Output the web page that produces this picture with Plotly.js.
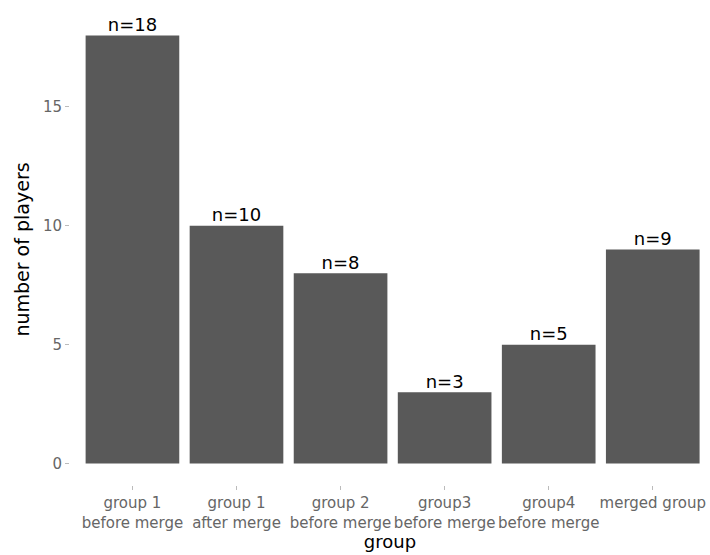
<!DOCTYPE html>
<html>
<head>
<meta charset="utf-8">
<script src="https://cdn.plot.ly/plotly-3.0.1.min.js"></script>
<style>html,body{margin:0;padding:0;background:#fff;}</style>
</head>
<body>
<div id="chart" style="width:710px;height:555px;"></div>
<script>
const categories = ["group 1<br>before merge", "group 1<br>after merge", "group 2<br>before merge", "group3<br>before merge", "group4<br>before merge", "merged group"];
const players = [18, 10, 8, 3, 5, 9];
const labels = players.map(v => "n=" + v);
const yTicks = [0, 5, 10, 15];

const FONT = "DejaVu Sans, Liberation Sans, Arial, sans-serif";

const data = [
  {
    type: "bar",
    x: categories,
    y: players,
    width: 0.9,
    marker: {color: "#595959"},
    hoverinfo: "skip",
    showlegend: false
  },
  {
    type: "scatter",
    mode: "text",
    x: categories,
    y: players,
    text: labels,
    textposition: "top center",
    textfont: {family: FONT, size: 18, color: "#000"},
    hoverinfo: "skip",
    showlegend: false,
    cliponaxis: false
  }
];

const layout = {
  width: 710, height: 555,
  margin: {l: 70, r: 0, t: 14, b: 70},
  paper_bgcolor: "#fff", plot_bgcolor: "#fff",
  font: {family: FONT},
  xaxis: {
    type: "category",
    range: [-0.6, 5.55],
    tickangle: 0,
    showgrid: false, zeroline: false, showline: false,
    ticks: "outside", ticklen: 4, tickcolor: "#bbb", tickwidth: 1,
    tickfont: {family: FONT, size: 15, color: "#666"},
    title: {text: "group", font: {family: FONT, size: 18, color: "#000"}, standoff: 2},
    automargin: false
  },
  yaxis: {
    range: [-0.9, 18.9],
    tickvals: yTicks,
    showgrid: false, zeroline: false, showline: false,
    ticks: "outside", ticklen: 4, tickcolor: "#bbb", tickwidth: 1,
    tickfont: {family: FONT, size: 15, color: "#666"},
    title: {text: "number of players", font: {family: FONT, size: 19, color: "#000"}, standoff: 8},
    automargin: false
  }
};

Plotly.newPlot("chart", data, layout, {displayModeBar: false, staticPlot: true});
</script>
</body>
</html>
